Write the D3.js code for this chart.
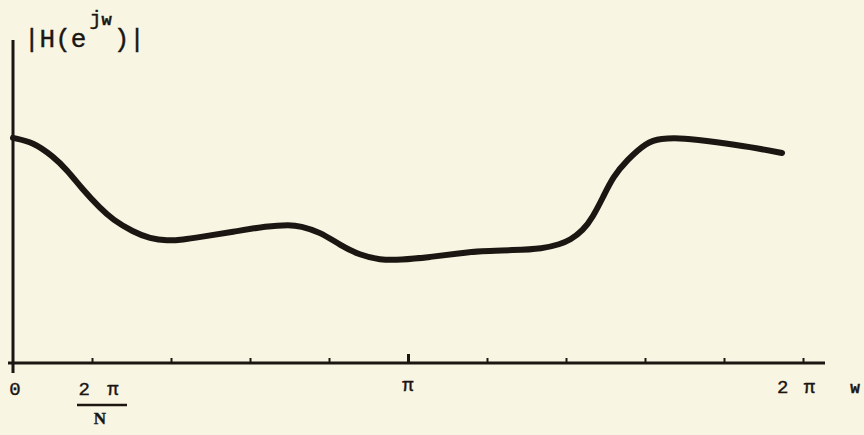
<!DOCTYPE html>
<html>
<head>
<meta charset="utf-8">
<script src="https://cdn.jsdelivr.net/npm/d3@7"></script>
<style>
  html, body { margin: 0; padding: 0; background: #f8f5e3; }
  svg { display: block; }
  text { fill: #1c1612; stroke: #1c1612; stroke-width: 0.4; }
</style>
</head>
<body>
<svg id="chart"></svg>
<script>
const width = 864;
const height = 435;

// frequency in units of pi, magnitude in units of the y-axis length
const omega = [0, 0.051, 0.101, 0.137, 0.177, 0.220, 0.253, 0.304, 0.347, 0.390,
    0.430, 0.473, 0.557, 0.643, 0.701, 0.727, 0.777, 0.828, 0.878, 0.929,
    0.980, 1.056, 1.132, 1.182, 1.266, 1.342, 1.385, 1.410, 1.443, 1.468,
    1.494, 1.519, 1.554, 1.605, 1.638, 1.696, 1.782, 1.866, 1.947];
const magnitude = [0.697, 0.684, 0.640, 0.598, 0.536, 0.480, 0.443, 0.406, 0.385, 0.378,
    0.382, 0.390, 0.406, 0.424, 0.428, 0.424, 0.406, 0.365, 0.334, 0.319,
    0.319, 0.328, 0.340, 0.347, 0.349, 0.354, 0.368, 0.380, 0.410, 0.452,
    0.514, 0.576, 0.628, 0.684, 0.695, 0.697, 0.684, 0.669, 0.650];
const tickValues = [0.2, 0.4, 0.6, 0.8, 1, 1.2, 1.4, 1.6, 1.8, 2];

const ink = "#1c1612";

const svg = d3.select("#chart").attr("width", width).attr("height", height);

const x = d3.scaleLinear().domain([0, 2]).range([13, 803]);
const y = d3.scaleLinear().domain([0, 1]).range([363, 40]);

// x axis with small upward ticks
const xAxis = svg.append("g")
    .attr("transform", `translate(0,${y(0)})`)
    .call(d3.axisBottom(x).tickValues(tickValues).tickSizeInner(-5).tickSizeOuter(0).tickFormat(""));
xAxis.select(".domain").remove();
xAxis.selectAll(".tick line").attr("stroke", ink).attr("stroke-width", 2);
xAxis.selectAll(".tick").filter((d) => d === 1).select("line").attr("y2", -9).attr("stroke-width", 3);

svg.append("line")
    .attr("x1", x(0) - 5).attr("x2", 825)
    .attr("y1", y(0)).attr("y2", y(0))
    .attr("stroke", ink).attr("stroke-width", 3);

// y axis
svg.append("line")
    .attr("x1", x(0)).attr("x2", x(0))
    .attr("y1", y(1)).attr("y2", y(0) + 10)
    .attr("stroke", ink).attr("stroke-width", 3);

// response curve
const line = d3.line()
    .x((d, i) => x(omega[i]))
    .y((d) => y(d))
    .curve(d3.curveBasis);

svg.append("path")
    .datum(magnitude)
    .attr("d", line)
    .attr("fill", "none")
    .attr("stroke", ink)
    .attr("stroke-width", 6)
    .attr("stroke-linecap", "round")
    .attr("stroke-linejoin", "round");

// labels
const mono = "'Liberation Mono', 'DejaVu Sans Mono', monospace";

svg.append("text")
    .attr("x", x(0) + 2).attr("y", 395)
    .attr("font-family", mono).attr("font-size", 19)
    .attr("text-anchor", "middle")
    .text("0");

svg.append("text")
    .attr("x", x(0.2) + 8).attr("y", 395)
    .attr("font-family", mono).attr("font-size", 19)
    .attr("text-anchor", "middle")
    .attr("letter-spacing", 3)
    .text("2 π");

svg.append("line")
    .attr("x1", x(0.2) - 15).attr("x2", x(0.2) + 35)
    .attr("y1", 405).attr("y2", 405)
    .attr("stroke", ink).attr("stroke-width", 2.5);

svg.append("text")
    .attr("x", x(0.2) + 8).attr("y", 424)
    .attr("font-family", "'Liberation Serif', serif").attr("font-size", 17)
    .attr("font-weight", "bold")
    .attr("text-anchor", "middle")
    .text("N");

svg.append("text")
    .attr("x", x(1)).attr("y", 391)
    .attr("font-family", mono).attr("font-size", 19)
    .attr("text-anchor", "middle")
    .text("π");

svg.append("text")
    .attr("x", x(2) - 6).attr("y", 393)
    .attr("font-family", mono).attr("font-size", 19)
    .attr("text-anchor", "middle")
    .attr("letter-spacing", 2)
    .text("2 π");

svg.append("text")
    .attr("x", 855).attr("y", 393)
    .attr("font-family", mono).attr("font-size", 16)
    .attr("font-weight", "bold")
    .attr("text-anchor", "middle")
    .text("w");

const title = svg.append("text")
    .attr("x", 24).attr("y", 47)
    .attr("font-family", mono).attr("font-size", 26);
title.append("tspan").text("|H(e");
title.append("tspan").attr("dx", 3).attr("dy", -22).attr("font-size", 20).text("j");
title.append("tspan").attr("font-size", 17).attr("font-weight", "bold").text("w");
title.append("tspan").attr("dy", 22).attr("dx", 2).text(")|");
</script>
</body>
</html>
